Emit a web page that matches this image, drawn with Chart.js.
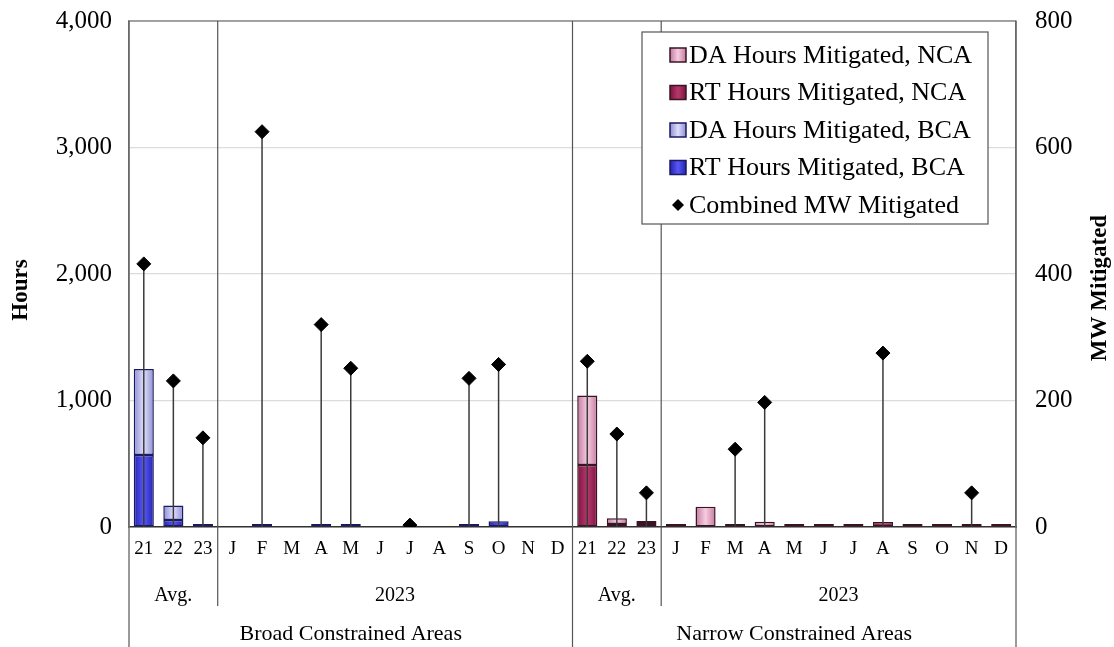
<!DOCTYPE html>
<html>
<head>
<meta charset="utf-8">
<script src="https://cdn.jsdelivr.net/npm/chart.js@4/dist/chart.umd.min.js"></script>
<style>
  html, body { margin: 0; padding: 0; background: #fff; }
  #wrap { width: 1114px; height: 647px; }
</style>
</head>
<body>
<div id="wrap"><canvas id="myChart" width="1114" height="647"></canvas></div>
<script>
// categories: 3 yearly averages then the 12 months of 2023, once per area
var avgYears = ['21', '22', '23'];
var months = ['J', 'F', 'M', 'A', 'M', 'J', 'J', 'A', 'S', 'O', 'N', 'D'];
var groupNames = ['Broad Constrained Areas', 'Narrow Constrained Areas'];
var subGroups = ['Avg.', '2023'];

// hours mitigated (left axis), one value per category in the group
var bcaRT = [570, 55, 4, null, 4, null, 4, 4, null, null, null, 4, 45, null, null];
var bcaDA = [680, 115, null, null, null, null, null, null, null, null, null, null, null, null, null];
var ncaRT = [490, 15, 6, null, null, null, null, null, null, null, 40, null, null, null, null];
var ncaDA = [550, 46, 22, 5, 160, 4, 42, 4, 5, 4, null, 4, 4, 15, 4];

// combined MW mitigated (right axis)
var bcaMW = [416, 231, 141, null, 625, null, 320, 251, null, 3, null, 235, 257, null, null];
var ncaMW = [262, 147, 54, null, null, 123, 197, null, null, null, 275, null, null, 54, null];

var hourTicks = [0, 1000, 2000, 3000, 4000];
var mwTicks = [0, 200, 400, 600, 800];

var groupCats = avgYears.concat(months);
var labels = groupCats.concat(groupCats);
var none = groupCats.map(function () { return null; });

var serif = '"Liberation Serif", "Times New Roman", serif';
var barPct = 0.68;

// bar shading, darker at the edges and lighter in the middle
var shades = {
    bcaRT: ['#2323b4', '#5858f4'],
    bcaDA: ['#8e8ed2', '#dedefc'],
    ncaRT: ['#7a1440', '#b8386c'],
    ncaDA: ['#c27a9e', '#f6cce0']
};

function shadeFill(ctx, key, x0, x1) {
    var g = ctx.createLinearGradient(x0, 0, x1, 0);
    g.addColorStop(0, shades[key][0]);
    g.addColorStop(0.5, shades[key][1]);
    g.addColorStop(1, shades[key][0]);
    return g;
}

function barFill(key) {
    return function (c) {
        var xs = c.chart.scales.x;
        if (!xs || c.dataIndex === undefined || !c.chart.chartArea) return shades[key][1];
        var cx = xs.getPixelForValue(c.dataIndex);
        var half = xs.width / labels.length * barPct / 2;
        return shadeFill(c.chart.ctx, key, cx - half, cx + half);
    };
}

// vertical lines from each diamond down to zero
var dropLines = {
    id: 'dropLines',
    beforeDatasetDraw: function (chart, args) {
        if (chart.data.datasets[args.index].type !== 'line') return;
        var ctx = chart.ctx;
        var y0 = chart.scales.y1.getPixelForValue(0);
        ctx.save();
        ctx.strokeStyle = '#3a3a3a';
        ctx.lineWidth = 1.5;
        args.meta.data.forEach(function (pt, i) {
            var p = args.meta._parsed[i];
            if (!p || p.y == null || isNaN(pt.y)) return;
            ctx.beginPath();
            ctx.moveTo(pt.x, pt.y);
            ctx.lineTo(pt.x, y0);
            ctx.stroke();
        });
        ctx.restore();
    }
};

var frame = {
    id: 'frame',
    afterDraw: function (chart) {
        var ctx = chart.ctx;
        var a = chart.chartArea;
        var x = chart.scales.x;
        var H = chart.height;
        var n = groupCats.length;
        function between(i) {
            if (i <= 0) return a.left;
            if (i >= 2 * n) return a.right;
            return (x.getPixelForValue(i - 1) + x.getPixelForValue(i)) / 2;
        }
        ctx.save();
        ctx.strokeStyle = '#8a8a8a';
        ctx.lineWidth = 1.5;
        ctx.beginPath();
        ctx.moveTo(a.left, a.top); ctx.lineTo(a.right, a.top);
        ctx.stroke();

        // category separators
        ctx.strokeStyle = '#555';
        ctx.lineWidth = 1.2;
        [a.left, between(n), a.right].forEach(function (px) {
            ctx.beginPath(); ctx.moveTo(px, a.top); ctx.lineTo(px, H); ctx.stroke();
        });
        [between(3), between(n + 3)].forEach(function (px) {
            ctx.beginPath(); ctx.moveTo(px, a.top); ctx.lineTo(px, 606); ctx.stroke();
        });

        // group label rows
        ctx.fillStyle = '#000';
        ctx.textAlign = 'center';
        ctx.textBaseline = 'middle';
        for (var g = 0; g < 2; g++) {
            var s = g * n;
            ctx.font = '20px ' + serif;
            ctx.fillText(subGroups[0], (between(s) + between(s + 3)) / 2, 596);
            ctx.fillText(subGroups[1], (between(s + 3) + between(s + n)) / 2, 596);
            ctx.font = '22px ' + serif;
            ctx.fillText(groupNames[g], (between(s) + between(s + n)) / 2, 634);
        }

        // axis titles
        ctx.font = 'bold 23px ' + serif;
        ctx.save();
        ctx.translate(21, 290);
        ctx.rotate(-Math.PI / 2);
        ctx.fillText('Hours', 0, 0);
        ctx.restore();
        ctx.save();
        ctx.translate(1100, 288);
        ctx.rotate(-Math.PI / 2);
        ctx.fillText('MW Mitigated', 0, 0);
        ctx.restore();

        // legend
        var lx = 642, ly = 32, lw = 346, lh = 192;
        ctx.fillStyle = '#fff';
        ctx.fillRect(lx, ly, lw, lh);
        ctx.strokeStyle = '#555';
        ctx.lineWidth = 1.2;
        ctx.strokeRect(lx, ly, lw, lh);
        var order = [3, 2, 1, 0, 4];
        ctx.font = '26px ' + serif;
        ctx.textAlign = 'left';
        order.forEach(function (di, k) {
            var ds = chart.data.datasets[di];
            var cy = 55 + k * 37.5;
            if (ds.type === 'line') {
                ctx.fillStyle = '#000';
                ctx.beginPath();
                ctx.moveTo(678, cy - 6); ctx.lineTo(684, cy); ctx.lineTo(678, cy + 6); ctx.lineTo(672, cy);
                ctx.closePath(); ctx.fill();
            } else {
                ctx.fillStyle = shadeFill(ctx, ds.shade, 670, 686);
                ctx.fillRect(670, cy - 7, 16, 14);
                ctx.strokeStyle = ds.borderColor;
                ctx.lineWidth = 1.5;
                ctx.strokeRect(670, cy - 7, 16, 14);
            }
            ctx.fillStyle = '#000';
            ctx.fillText(ds.label, 689, cy + 1);
        });
        ctx.restore();
    }
};

function barSet(label, data, key, border) {
    return {
        label: label,
        data: data,
        shade: key,
        backgroundColor: barFill(key),
        borderColor: border,
        borderWidth: 1.5,
        borderSkipped: false,
        minBarLength: 3,
        order: 1
    };
}

function noPad(s) {
    s.paddingTop = 0;
    s.paddingBottom = 0;
}

var ctx = document.getElementById('myChart').getContext('2d');
var myChart = new Chart(ctx, {
    type: 'bar',
    data: {
        labels: labels,
        datasets: [
            barSet('RT Hours Mitigated, BCA', bcaRT.concat(none), 'bcaRT', '#1a1a60'),
            barSet('DA Hours Mitigated, BCA', bcaDA.concat(none), 'bcaDA', '#1a1a60'),
            barSet('RT Hours Mitigated, NCA', none.concat(ncaRT), 'ncaRT', '#3a1424'),
            barSet('DA Hours Mitigated, NCA', none.concat(ncaDA), 'ncaDA', '#3a1424'),
            {
                type: 'line',
                label: 'Combined MW Mitigated',
                data: bcaMW.concat(ncaMW),
                yAxisID: 'y1',
                showLine: false,
                pointStyle: 'rectRot',
                pointRadius: 7,
                pointBackgroundColor: '#000',
                pointBorderColor: '#000',
                order: 0
            }
        ]
    },
    plugins: [dropLines, frame],
    options: {
        responsive: false,
        animation: false,
        layout: { padding: { top: 21, left: 0, right: 0, bottom: 0 } },
        datasets: { bar: { barPercentage: barPct, categoryPercentage: 1 } },
        plugins: {
            legend: { display: false },
            tooltip: { enabled: false }
        },
        scales: {
            x: {
                stacked: true,
                grid: { display: false, drawTicks: false },
                border: { color: '#333', width: 1.5 },
                ticks: {
                    autoSkip: false,
                    maxRotation: 0,
                    padding: 11,
                    color: '#000',
                    font: { family: serif, size: 19 }
                },
                afterFit: function (s) { s.height = 120; s.paddingLeft = 0; s.paddingRight = 0; }
            },
            y: {
                stacked: true,
                min: hourTicks[0],
                max: hourTicks[hourTicks.length - 1],
                afterBuildTicks: function (s) {
                    s.ticks = hourTicks.map(function (v) { return { value: v }; });
                },
                grid: { color: '#dcdcdc', lineWidth: 1.2, drawTicks: false },
                border: { color: '#8a8a8a', width: 1.5 },
                ticks: {
                    padding: 17,
                    color: '#000',
                    font: { family: serif, size: 25 },
                    callback: function (v) { return v.toLocaleString('en-US'); }
                },
                afterFit: function (s) { s.width = 129; noPad(s); }
            },
            y1: {
                position: 'right',
                min: mwTicks[0],
                max: mwTicks[mwTicks.length - 1],
                afterBuildTicks: function (s) {
                    s.ticks = mwTicks.map(function (v) { return { value: v }; });
                },
                grid: { drawOnChartArea: false, drawTicks: false },
                border: { color: '#8a8a8a', width: 1.5 },
                ticks: {
                    padding: 19,
                    color: '#000',
                    font: { family: serif, size: 25 }
                },
                afterFit: function (s) { s.width = 98; noPad(s); }
            }
        }
    }
});
</script>
</body>
</html>
